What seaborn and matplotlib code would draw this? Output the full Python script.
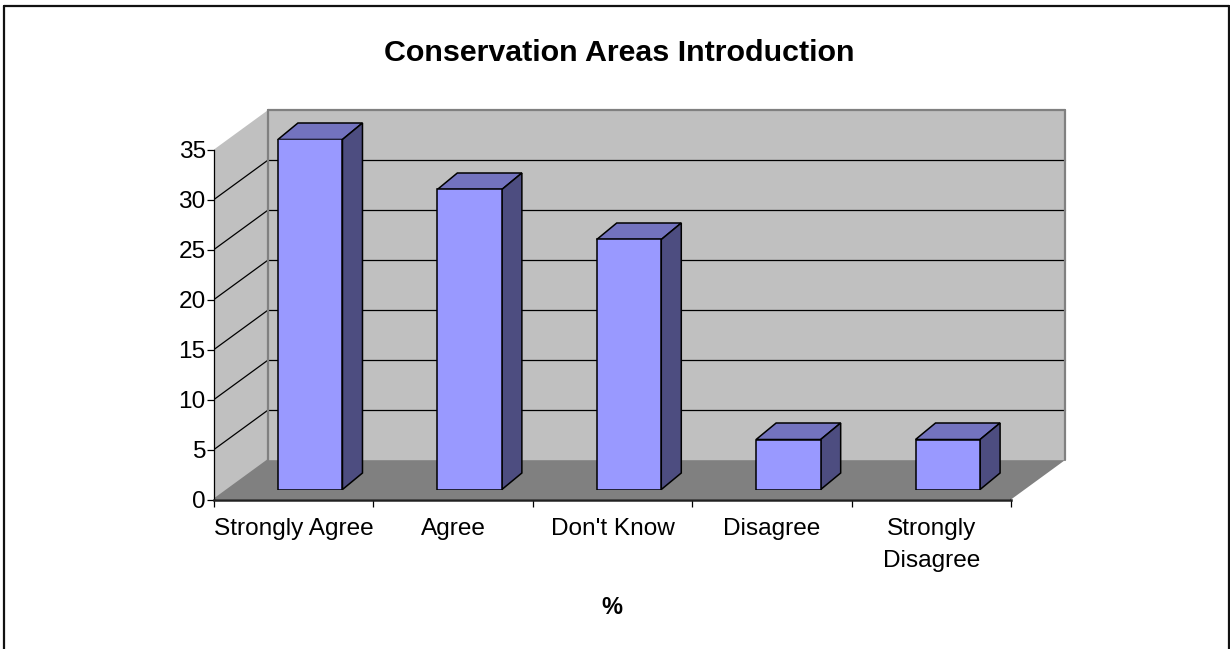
import matplotlib
matplotlib.use("Agg")
import matplotlib.pyplot as plt
from matplotlib.lines import Line2D
from matplotlib.patches import Polygon
from matplotlib.transforms import Affine2D
import pandas as pd
import seaborn as sns

categories = ["Strongly Agree", "Agree", "Don't Know", "Disagree", "Strongly\nDisagree"]
percent = [35, 30, 25, 5, 5]
y_ticks = [0, 5, 10, 15, 20, 25, 30, 35]

W, H = 1230, 649
FONT = "Liberation Sans"
WALL = "#c0c0c0"
FLOOR = "#808080"
BAR_FRONT = "#9999ff"
BAR_TOP = "#7373bf"
BAR_SIDE = "#4d4d80"

sns.set_theme(style="white")
plt.rcParams["font.family"] = [FONT, "DejaVu Sans"]


def px_axes(fig, left, top, right, bottom):
    return fig.add_axes([left / W, 1 - bottom / H, (right - left) / W, (bottom - top) / H])


def shifted(ax, dx, dy):
    # data coords moved by a pixel offset, dy counted upward
    return ax.transData + Affine2D().translate(dx, dy)


fig = plt.figure(figsize=(W / 100, H / 100), dpi=100, facecolor="white")

# frame of the chart area, the bottom runs off the picture
for xs, ys in [((4, 4), (0, 643)), ((4, 1229), (643, 643)), ((1229, 1229), (0, 643))]:
    fig.add_artist(Line2D([x / W for x in xs], [y / H for y in ys], color="#111111", lw=1.6))

ax = px_axes(fig, 214, 149.5, 1011, 499.5)
ax.patch.set_visible(False)
x0, x1 = -0.5, len(categories) - 0.5
y0, y1 = y_ticks[0], y_ticks[-1]
ax.set_xlim(x0, x1)
ax.set_ylim(y0, y1)

# walls and floor, pushed back by the depth offset
DX, DY = 54, 39.4
back = shifted(ax, DX, DY)
to_px = ax.transData
ax.add_patch(Polygon([(x0, y0), (x1, y0), (x1, y1), (x0, y1)], transform=back,
                     fc=WALL, ec="none", clip_on=False, zorder=0))
ax.add_patch(Polygon([to_px.transform((x0, y0)), back.transform((x0, y0)),
                      back.transform((x0, y1)), to_px.transform((x0, y1))],
                     transform=None, fc=WALL, ec="none", clip_on=False, zorder=0))
ax.add_patch(Polygon([to_px.transform((x0, y0)), to_px.transform((x1, y0)),
                      back.transform((x1, y0)), back.transform((x0, y0))],
                     transform=None, fc=FLOOR, ec="none", clip_on=False, zorder=0.5))

# grid on both walls
for v in y_ticks[1:-1]:
    ax.plot([x0, x1], [v, v], transform=back, color="black", lw=0.9, clip_on=False, zorder=1)
    a, b = to_px.transform((x0, v)), back.transform((x0, v))
    ax.add_line(Line2D([a[0], b[0]], [a[1], b[1]], transform=None, color="black", lw=0.9, zorder=1))

# wall outlines
for p, q in [((x0, y1), (x0, y0)), ((x0, y1), (x1, y1)), ((x1, y1), (x1, y0))]:
    ax.plot([p[0], q[0]], [p[1], q[1]], transform=back, color=FLOOR, lw=1.6, clip_on=False, zorder=1.5)
for v in [y1, y0]:
    a, b = to_px.transform((x0, v)), back.transform((x0, v))
    ax.add_line(Line2D([a[0], b[0]], [a[1], b[1]], transform=None, color=FLOOR, lw=1.4, zorder=1.5))
a, b = to_px.transform((x1, y0)), back.transform((x1, y0))
ax.add_line(Line2D([a[0], b[0]], [a[1], b[1]], transform=None, color="black", lw=0.9, zorder=1.5))

# axes, ticks and labels
for name in ["top", "right"]:
    ax.spines[name].set_visible(False)
ax.spines["left"].set_color("black")
ax.spines["left"].set_linewidth(0.9)
ax.spines["bottom"].set_color("#222222")
ax.spines["bottom"].set_linewidth(1.8)
ax.set_yticks(y_ticks)
ax.set_xticks([i - 0.5 for i in range(len(categories) + 1)])
ax.set_xticklabels([])
ax.set_xticks(range(len(categories)), labels=categories, minor=True)
ax.tick_params(axis="y", left=True, length=5, width=0.9, color="black", labelsize=17.6, pad=1, labelcolor="black")
ax.tick_params(axis="x", which="major", bottom=True, length=5, width=0.9, color="black")
ax.tick_params(axis="x", which="minor", bottom=False, length=5, labelsize=17.6, pad=8.5, labelcolor="black")
for t in ax.get_xticklabels(minor=True):
    t.set_linespacing(1.55)

# bars on their own axes, set into the box a little
BX, BY = 16.5, 10
ax_bars = px_axes(fig, 214 + BX, 149.5 - BY, 1011 + BX, 499.5 - BY)
df = pd.DataFrame({"category": categories, "percent": percent})
sns.barplot(data=df, x="category", y="percent", ax=ax_bars, color=BAR_FRONT, saturation=1,
            width=0.405, edgecolor="black", linewidth=1.1, zorder=3)
ax_bars.set_xlim(x0, x1)
ax_bars.set_ylim(y0, y1)
ax_bars.axis("off")

SX, SY = 20, 16.5
to_px_b = ax_bars.transData
for bar in ax_bars.patches:
    l, r, top = bar.get_x(), bar.get_x() + bar.get_width(), bar.get_height()
    ll, lt = to_px_b.transform((l, top))
    rr, rb = to_px_b.transform((r, 0))
    rt = lt
    ax_bars.add_patch(Polygon([(ll, lt), (rr, rt), (rr + SX, rt + SY), (ll + SX, lt + SY)], transform=None,
                              fc=BAR_TOP, ec="black", lw=1.1, clip_on=False, zorder=2))
    ax_bars.add_patch(Polygon([(rr, rb), (rr + SX, rb + SY), (rr + SX, rt + SY), (rr, rt)], transform=None,
                              fc=BAR_SIDE, ec="black", lw=1.1, clip_on=False, zorder=2))

fig.text(619 / W, 1 - 53 / H, "Conservation Areas Introduction", ha="center", va="center",
         fontsize=21.9, fontweight="bold", color="black")
fig.text(612 / W, 1 - 608 / H, "%", ha="center", va="center", fontsize=17, fontweight="bold", color="black")

fig.savefig("out.png", dpi=100, facecolor="white")
